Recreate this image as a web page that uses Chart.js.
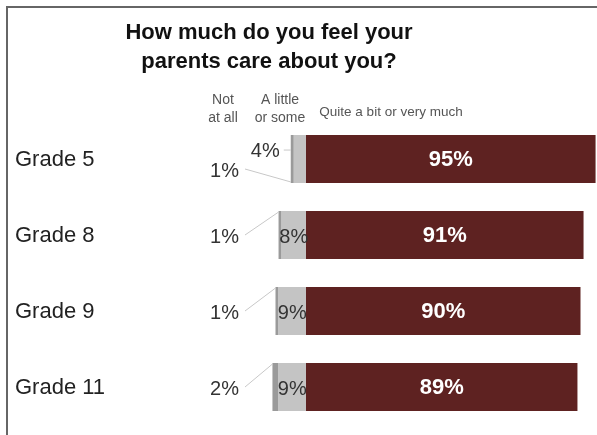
<!DOCTYPE html>
<html>
<head>
<meta charset="utf-8">
<script src="https://cdn.jsdelivr.net/npm/chart.js@4"></script>
<style>
  html, body { margin: 0; padding: 0; background: #fff; }
  #wrap { width: 597px; height: 435px; }
</style>
</head>
<body>
<div id="wrap"><canvas id="grafico" width="597" height="435"></canvas></div>
<script>
// datos
const categorias = ['Grade 5', 'Grade 8', 'Grade 9', 'Grade 11'];
const nadaEnAbsoluto = [1, 1, 1, 2];      // Not at all
const unPoco = [4, 8, 9, 9];              // A little or some
const bastante = [95, 91, 90, 89];        // Quite a bit or very much

const FUENTE = '"Liberation Sans", Arial, sans-serif';

// dibuja titulo, marco, encabezados y etiquetas
const decoraciones = {
    id: 'decoraciones',
    afterDatasetsDraw(chart) {
        const ctx = chart.ctx;
        const xs = chart.scales.x;
        const cero = xs.getPixelForValue(0);

        ctx.save();
        // marco
        ctx.strokeStyle = '#666';
        ctx.lineWidth = 2;
        ctx.beginPath();
        ctx.moveTo(7, 435);
        ctx.lineTo(7, 7);
        ctx.lineTo(597, 7);
        ctx.stroke();

        // titulo
        ctx.fillStyle = '#111';
        ctx.textAlign = 'center';
        ctx.textBaseline = 'middle';
        ctx.font = 'bold 22px ' + FUENTE;
        ctx.fillText('How much do you feel your', 269, 33);
        ctx.fillText('parents care about you?', 269, 62);

        // encabezados de columnas
        ctx.fillStyle = '#555';
        ctx.font = '14px ' + FUENTE;
        ctx.fillText('Not', cero - 83, 100);
        ctx.fillText('at all', cero - 83, 118);
        ctx.fillText('A little', cero - 26, 100);
        ctx.fillText('or some', cero - 26, 118);
        ctx.font = '13.5px ' + FUENTE;
        ctx.fillText('Quite a bit or very much', cero + 85, 112);

        categorias.forEach((cat, i) => {
            const poco = chart.getDatasetMeta(0).data[i];
            const nada = chart.getDatasetMeta(1).data[i];
            const mucho = chart.getDatasetMeta(2).data[i];
            const yc = mucho.y;
            const arriba = yc - mucho.height / 2;
            const abajo = yc + mucho.height / 2;
            const izq = Math.min(nada.x, nada.base);

            // nombre de la categoria
            ctx.textAlign = 'left';
            ctx.fillStyle = '#222';
            ctx.font = '22px ' + FUENTE;
            ctx.fillText(cat, 15, yc + 1);

            // porcentaje principal
            ctx.textAlign = 'center';
            ctx.fillStyle = '#fff';
            ctx.font = 'bold 22px ' + FUENTE;
            ctx.fillText(bastante[i] + '%', (mucho.x + mucho.base) / 2, yc + 1);

            const fuera = unPoco[i] < 5;
            ctx.font = '20px ' + FUENTE;
            ctx.fillStyle = '#333';
            ctx.strokeStyle = '#c8c8c8';
            ctx.lineWidth = 1;

            // a little or some
            if (fuera) {
                ctx.textAlign = 'right';
                ctx.fillText(unPoco[i] + '%', izq - 11, arriba + 16);
                ctx.beginPath();
                ctx.moveTo(izq - 7, arriba + 15);
                ctx.lineTo(izq, arriba + 15);
                ctx.stroke();
            } else {
                ctx.textAlign = 'center';
                ctx.fillText(unPoco[i] + '%', (poco.x + poco.base) / 2, yc + 2);
            }

            // not at all, con linea guia
            const yEtiqueta = fuera ? yc + 12 : yc + 2;
            ctx.textAlign = 'right';
            ctx.fillText(nadaEnAbsoluto[i] + '%', cero - 67, yEtiqueta);
            ctx.beginPath();
            ctx.moveTo(cero - 61, yEtiqueta - 2);
            ctx.lineTo(izq, fuera ? abajo - 1 : arriba + 1);
            ctx.stroke();
        });
        ctx.restore();
    }
};

const ctx = document.getElementById('grafico').getContext('2d');
new Chart(ctx, {
    type: 'bar',
    data: {
        labels: categorias,
        datasets: [{
            label: 'A little or some',
            data: unPoco.map(v => -v),
            backgroundColor: '#c4c4c4'
        }, {
            label: 'Not at all',
            data: nadaEnAbsoluto.map(v => -v),
            backgroundColor: '#9a9a9a'
        }, {
            label: 'Quite a bit or very much',
            data: bastante,
            backgroundColor: '#5e2221'
        }]
    },
    options: {
        indexAxis: 'y',
        responsive: false,
        animation: false,
        datasets: {
            bar: { barPercentage: 1, categoryPercentage: 0.63 }
        },
        layout: {
            padding: { left: 153.5, right: 1.25, top: 121, bottom: 10 }
        },
        scales: {
            x: { stacked: true, min: -50, max: 95, display: false },
            y: { stacked: true, display: false }
        },
        plugins: {
            legend: { display: false },
            tooltip: { enabled: false },
            title: { display: false }
        }
    },
    plugins: [decoraciones]
});
</script>
</body>
</html>
